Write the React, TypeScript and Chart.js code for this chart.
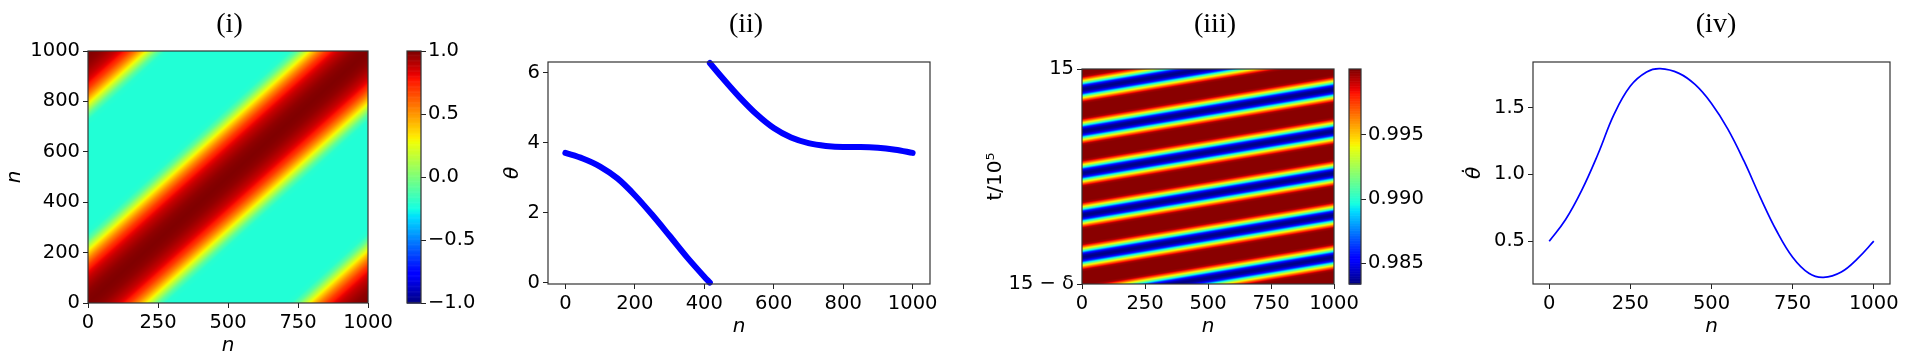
import React, { useEffect, useRef } from 'react';
import { Chart, registerables } from 'chart.js';

Chart.register(...registerables);
Chart.defaults.font.family = "'DejaVu Sans', sans-serif";
Chart.defaults.color = '#000';

// ---------------- data ----------------
const TITLES = ['(i)', '(ii)', '(iii)', '(iv)'];

// (i) coupling matrix: value as a function of circular index distance |m - n|
const KERNEL_DIST = [0, 25, 50, 75, 100, 125, 150, 175, 200, 225, 250, 275, 300, 325, 350, 375, 400, 425, 450, 475, 500];
const KERNEL_VALUE = [1.0, 0.99, 0.97, 0.93, 0.88, 0.8, 0.69, 0.54, 0.36, 0.15, -0.07, -0.2, -0.22, -0.22, -0.22, -0.22, -0.22, -0.22, -0.22, -0.22, -0.22];
const P1_X_TICKS = [0, 250, 500, 750, 1000];
const P1_X_LABELS = ['0', '250', '500', '750', '1000'];
const P1_Y_TICKS = [0, 200, 400, 600, 800, 1000];
const P1_Y_LABELS = ['0', '200', '400', '600', '800', '1000'];
const CB1_RANGE = [-1, 1];
const CB1_TICKS = [-1, -0.5, 0, 0.5, 1];
const CB1_LABELS = ['\u22121.0', '\u22120.5', '0.0', '0.5', '1.0'];

// (ii) phase snapshot theta(n), wrapped to [0, 2pi)
const THETA_N1 = [0, 50, 100, 150, 200, 250, 300, 350, 400, 416];
const THETA_V1 = [3.71, 3.55, 3.32, 2.98, 2.5, 1.94, 1.34, 0.73, 0.17, 0.0];
const THETA_N2 = [416, 450, 500, 550, 600, 650, 700, 750, 800, 850, 900, 950, 1000];
const THETA_V2 = [6.28, 5.88, 5.32, 4.82, 4.42, 4.15, 3.99, 3.91, 3.88, 3.88, 3.86, 3.8, 3.71];
const P2_X_TICKS = [0, 200, 400, 600, 800, 1000];
const P2_X_LABELS = ['0', '200', '400', '600', '800', '1000'];
const P2_Y_TICKS = [0, 2, 4, 6];
const P2_Y_LABELS = ['0', '2', '4', '6'];

// (iii) space-time stripes: stripe phase shift along n (in periods), band profile over one period
const STRIPE_N = [0, 125, 250, 375, 500, 625, 750, 875, 1000];
const STRIPE_SHIFT = [0, 0.125, 0.25, 0.375, 0.5, 0.625, 0.75, 0.875, 1.0];
const STRIPE_PERIOD = [0.195]; // fraction of the time window
const STRIPE_OFFSET = [0.125]; // blue-band centre at n = 0
const BAND_PHASE = [0, 0.05, 0.1, 0.15, 0.2, 0.25, 0.3, 0.35, 0.4, 0.45, 0.5, 0.55, 0.6, 0.65, 0.7, 0.75, 0.8, 0.85, 0.9, 0.95, 1.0];
const BAND_VALUE = [0.9834, 0.984, 0.9862, 0.9905, 0.994, 0.997, 0.9995, 1.0, 1.0, 1.0, 1.0, 1.0, 1.0, 1.0, 0.9995, 0.997, 0.994, 0.9905, 0.9862, 0.984, 0.9834];
const P3_X_TICKS = [0, 250, 500, 750, 1000];
const P3_X_LABELS = ['0', '250', '500', '750', '1000'];
const P3_Y_TICKS = [0, 1];
const P3_Y_LABELS = ['15 \u2212 \u03b4', '15'];
const CB3_RANGE = [0.98339, 1.00013];
const CB3_TICKS = [0.985, 0.99, 0.995];
const CB3_LABELS = ['0.985', '0.990', '0.995'];

// (iv) angular velocity profile
const DTHETA_N = [0, 50, 100, 150, 200, 250, 300, 342, 400, 450, 500, 550, 600, 650, 700, 750, 800, 845, 900, 950, 1000];
const DTHETA_V = [0.5, 0.66, 0.88, 1.15, 1.45, 1.66, 1.765, 1.79, 1.755, 1.67, 1.53, 1.34, 1.1, 0.83, 0.58, 0.38, 0.26, 0.23, 0.27, 0.37, 0.5];
const P4_X_TICKS = [0, 250, 500, 750, 1000];
const P4_X_LABELS = ['0', '250', '500', '750', '1000'];
const P4_Y_TICKS = [0.5, 1.0, 1.5];
const P4_Y_LABELS = ['0.5', '1.0', '1.5'];

// ---------------- styling helpers ----------------
const TICK_FONT = { family: "'DejaVu Sans', sans-serif", size: 19.5 };
const LABEL_FONT = { family: "'DejaVu Sans', sans-serif", size: 20, style: 'italic' as const };
const LABEL_FONT_UP = { family: "'DejaVu Sans', sans-serif", size: 20 };
const TITLE_FONT = { family: "'Liberation Serif', serif", size: 28, lineHeight: 1.2, weight: 'normal' as const };
const FRAME_COLOR = '#333';
const LINE_BLUE = '#0000ff';

function lookup(xs: number[], ys: number[], x: number): number {
  if (x <= xs[0]) return ys[0];
  for (let i = 1; i < xs.length; i++) {
    if (x <= xs[i]) {
      const t = (x - xs[i - 1]) / (xs[i] - xs[i - 1]);
      return ys[i - 1] + t * (ys[i] - ys[i - 1]);
    }
  }
  return ys[ys.length - 1];
}

function jet(v: number): [number, number, number] {
  const t = Math.max(0, Math.min(1, v));
  const r = lookup([0, 0.35, 0.66, 0.89, 1], [0, 0, 1, 1, 0.5], t);
  const g = lookup([0, 0.125, 0.375, 0.64, 0.91, 1], [0, 0, 1, 1, 0, 0], t);
  const b = lookup([0, 0.11, 0.34, 0.65, 1], [0.5, 1, 1, 0, 0], t);
  return [Math.round(r * 255), Math.round(g * 255), Math.round(b * 255)];
}

type AxisOpts = {
  position: 'left' | 'right' | 'bottom';
  min: number;
  max: number;
  ticks: number[];
  labels: string[];
  size: number;
  title?: string;
  titleFont?: any;
  titlePad?: { top: number; bottom: number };
  tickPad?: number;
};

function axis(o: AxisOpts): any {
  const horiz = o.position === 'bottom';
  return {
    type: 'linear',
    position: o.position,
    min: o.min,
    max: o.max,
    afterBuildTicks: (s: any) => {
      s.ticks = o.ticks.map((v) => ({ value: v }));
    },
    afterFit: (s: any) => {
      if (horiz) s.height = o.size;
      else s.width = o.size;
    },
    ticks: {
      font: TICK_FONT,
      color: '#000',
      padding: o.tickPad ?? 3,
      autoSkip: false,
      maxRotation: 0,
      minRotation: 0,
      callback: (_v: any, i: number) => o.labels[i],
    },
    grid: { display: true, drawOnChartArea: false, drawTicks: true, tickLength: 5, color: '#222', lineWidth: 1 },
    border: { display: false },
    title: o.title
      ? { display: true, text: o.title, font: o.titleFont || LABEL_FONT, color: '#000', padding: o.titlePad }
      : { display: false },
  };
}

function padScale(width: number): any {
  return {
    type: 'linear',
    position: 'right',
    display: true,
    min: 0,
    max: 1,
    ticks: { display: false },
    grid: { display: false },
    border: { display: false },
    afterFit: (s: any) => {
      s.width = width;
    },
  };
}

function titleCfg(text: string, padBottom: number): any {
  return { display: true, text, font: TITLE_FONT, color: '#000', padding: { top: 8.2, bottom: padBottom }, fullSize: true };
}

function baseOptions(title: any, scales: any, layoutPadding: any = 0): any {
  return {
    responsive: false,
    animation: false,
    devicePixelRatio: 1,
    events: [],
    layout: { padding: layoutPadding },
    plugins: { legend: { display: false }, tooltip: { enabled: false }, title },
    scales,
  };
}

const framePlugin = {
  id: 'frame',
  afterDraw(chart: any) {
    const { ctx, chartArea: a } = chart;
    ctx.save();
    ctx.strokeStyle = FRAME_COLOR;
    ctx.lineWidth = 1.2;
    ctx.strokeRect(a.left, a.top, a.right - a.left, a.bottom - a.top);
    ctx.restore();
  },
};

function heatmapPlugin(img: HTMLCanvasElement, xr: number[], yr: number[]) {
  return {
    id: 'heatmap',
    beforeDatasetsDraw(chart: any) {
      const { ctx, chartArea: a, scales } = chart;
      const x0 = scales.x.getPixelForValue(xr[0]);
      const x1 = scales.x.getPixelForValue(xr[1]);
      const y0 = scales.y.getPixelForValue(yr[1]);
      const y1 = scales.y.getPixelForValue(yr[0]);
      ctx.save();
      ctx.beginPath();
      ctx.rect(a.left, a.top, a.right - a.left, a.bottom - a.top);
      ctx.clip();
      ctx.imageSmoothingEnabled = true;
      (ctx as any).imageSmoothingQuality = 'high';
      ctx.drawImage(img, x0, y0, x1 - x0, y1 - y0);
      ctx.restore();
    },
  };
}

function colorbarPlugin(range: number[]) {
  return {
    id: 'colorbar',
    beforeDatasetsDraw(chart: any) {
      const { ctx, chartArea: a, scales } = chart;
      const S = 300;
      for (let k = 0; k < S; k++) {
        const v0 = range[0] + ((range[1] - range[0]) * k) / S;
        const v1 = range[0] + ((range[1] - range[0]) * (k + 1)) / S;
        const p0 = scales.y.getPixelForValue(v0);
        const p1 = scales.y.getPixelForValue(v1);
        const [r, g, b] = jet((k + 0.5) / S);
        ctx.fillStyle = `rgb(${r},${g},${b})`;
        ctx.fillRect(a.left, p1, a.right - a.left, p0 - p1 + 0.6);
      }
    },
  };
}

function makeImage(nx: number, ny: number, valueAt: (q: number, r: number) => [number, number, number]) {
  const c = document.createElement('canvas');
  c.width = nx;
  c.height = ny;
  const g = c.getContext('2d')!;
  const im = g.createImageData(nx, ny);
  for (let r = 0; r < ny; r++) {
    for (let q = 0; q < nx; q++) {
      const [R, G, B] = valueAt(q, r);
      const o = (r * nx + q) * 4;
      im.data[o] = R;
      im.data[o + 1] = G;
      im.data[o + 2] = B;
      im.data[o + 3] = 255;
    }
  }
  g.putImageData(im, 0, 0);
  return c;
}

function buildKernelImage() {
  const N = 200;
  const step = 1000 / N;
  return makeImage(N, N, (q, r) => {
    const nx = (q + 0.5) * step;
    const ny = 1000 - (r + 0.5) * step;
    let d = Math.abs(nx - ny) % 1000;
    d = Math.min(d, 1000 - d);
    const v = lookup(KERNEL_DIST, KERNEL_VALUE, d);
    return jet((v - CB1_RANGE[0]) / (CB1_RANGE[1] - CB1_RANGE[0]));
  });
}

function buildStripeImage() {
  const NX = 250;
  const NY = 430;
  return makeImage(NX, NY, (q, r) => {
    const n = ((q + 0.5) * 1000) / NX;
    const y = 1 - (r + 0.5) / NY;
    const ph = (y - STRIPE_OFFSET[0]) / STRIPE_PERIOD[0] - lookup(STRIPE_N, STRIPE_SHIFT, n);
    const s = ph - Math.floor(ph);
    const v = lookup(BAND_PHASE, BAND_VALUE, s);
    return jet((v - CB3_RANGE[0]) / (CB3_RANGE[1] - CB3_RANGE[0]));
  });
}

// ---------------- chart configs ----------------
function configI(): any {
  return {
    type: 'scatter',
    data: { datasets: [{ data: [] }] },
    options: baseOptions(titleCfg(TITLES[0], 9.2), {
      x: axis({ position: 'bottom', min: 0, max: 1000, ticks: P1_X_TICKS, labels: P1_X_LABELS, size: 57, title: 'n', titlePad: { top: 0, bottom: 2 } }),
      y: axis({ position: 'left', min: 0, max: 1000, ticks: P1_Y_TICKS, labels: P1_Y_LABELS, size: 88, title: 'n', titlePad: { top: 3, bottom: 0 } }),
      pad: padScale(91),
    }),
    plugins: [heatmapPlugin(buildKernelImage(), [0, 1000], [0, 1000]), framePlugin],
  };
}

function configCb(range: number[], ticks: number[], labels: string[], top: number, bottom: number, axisWidth: number): any {
  return {
    type: 'scatter',
    data: { datasets: [{ data: [] }] },
    options: baseOptions(
      { display: false },
      {
        x: { type: 'linear', display: false, min: 0, max: 1 },
        y: axis({ position: 'right', min: range[0], max: range[1], ticks, labels, size: axisWidth, tickPad: 2 }),
      },
      { left: 7, right: 0, top, bottom }
    ),
    plugins: [colorbarPlugin(range), framePlugin],
  };
}

function configII(): any {
  const seg = (ns: number[], vs: number[]) => ({
    data: ns.map((n, i) => ({ x: n, y: vs[i] })),
    borderColor: LINE_BLUE,
    backgroundColor: LINE_BLUE,
    borderWidth: 6,
    pointRadius: 0,
    cubicInterpolationMode: 'monotone',
    borderCapStyle: 'round',
    borderJoinStyle: 'round',
    clip: false,
    fill: false,
  });
  return {
    type: 'line',
    data: { datasets: [seg(THETA_N1, THETA_V1), seg(THETA_N2, THETA_V2)] },
    options: baseOptions(titleCfg(TITLES[1], 20.2), {
      x: axis({ position: 'bottom', min: -50, max: 1050, ticks: P2_X_TICKS, labels: P2_X_LABELS, size: 76, title: 'n', titlePad: { top: 0, bottom: 21 } }),
      y: axis({ position: 'left', min: -0.04, max: 6.31, ticks: P2_Y_TICKS, labels: P2_Y_LABELS, size: 68, title: '\u03b8', titlePad: { top: 21, bottom: 0 } }),
      pad: padScale(82),
    }),
    plugins: [framePlugin],
  };
}

function configIII(): any {
  return {
    type: 'scatter',
    data: { datasets: [{ data: [] }] },
    options: baseOptions(titleCfg(TITLES[2], 27.2), {
      x: axis({ position: 'bottom', min: 0, max: 1000, ticks: P3_X_TICKS, labels: P3_X_LABELS, size: 76, title: 'n', titlePad: { top: 0, bottom: 21 } }),
      y: axis({ position: 'left', min: 0, max: 1, ticks: P3_Y_TICKS, labels: P3_Y_LABELS, size: 112, title: 't/10\u2075', titleFont: LABEL_FONT_UP, titlePad: { top: 14, bottom: 0 } }),
      pad: padScale(126),
    }),
    plugins: [heatmapPlugin(buildStripeImage(), [0, 1000], [0, 1]), framePlugin],
  };
}

function configIV(): any {
  return {
    type: 'line',
    data: {
      datasets: [
        {
          data: DTHETA_N.map((n, i) => ({ x: n, y: DTHETA_V[i] })),
          borderColor: LINE_BLUE,
          borderWidth: 1.7,
          pointRadius: 0,
          tension: 0.4,
          fill: false,
        },
      ],
    },
    options: baseOptions(titleCfg(TITLES[3], 20.2), {
      x: axis({ position: 'bottom', min: -50, max: 1050, ticks: P4_X_TICKS, labels: P4_X_LABELS, size: 76, title: 'n', titlePad: { top: 0, bottom: 21 } }),
      y: axis({ position: 'left', min: 0.18, max: 1.84, ticks: P4_Y_TICKS, labels: P4_Y_LABELS, size: 73, title: '\u03b8\u0307', titlePad: { top: 3, bottom: 0 } }),
      pad: padScale(82),
    }),
    plugins: [framePlugin],
  };
}

// ---------------- components ----------------
function ChartPanel({ left, width, build }: { left: number; width: number; build: () => any }) {
  const ref = useRef<HTMLCanvasElement>(null);
  useEffect(() => {
    const chart = new Chart(ref.current as HTMLCanvasElement, build());
    return () => chart.destroy();
  }, []);
  return (
    <canvas
      ref={ref}
      width={width}
      height={360}
      style={{ position: 'absolute', left, top: 0, width, height: 360, display: 'block' }}
    />
  );
}

export default function App() {
  return (
    <div style={{ position: 'fixed', left: 0, top: 0, width: 1920, height: 360, overflow: 'hidden', background: '#fff' }}>
      <ChartPanel left={0} width={459} build={configI} />
      <ChartPanel left={400} width={100} build={() => configCb(CB1_RANGE, CB1_TICKS, CB1_LABELS, 51, 57, 79)} />
      <ChartPanel left={480} width={532} build={configII} />
      <ChartPanel left={970} width={490} build={configIII} />
      <ChartPanel left={1342} width={100} build={() => configCb(CB3_RANGE, CB3_TICKS, CB3_LABELS, 69, 76, 81)} />
      <ChartPanel left={1460} width={512} build={configIV} />
    </div>
  );
}
